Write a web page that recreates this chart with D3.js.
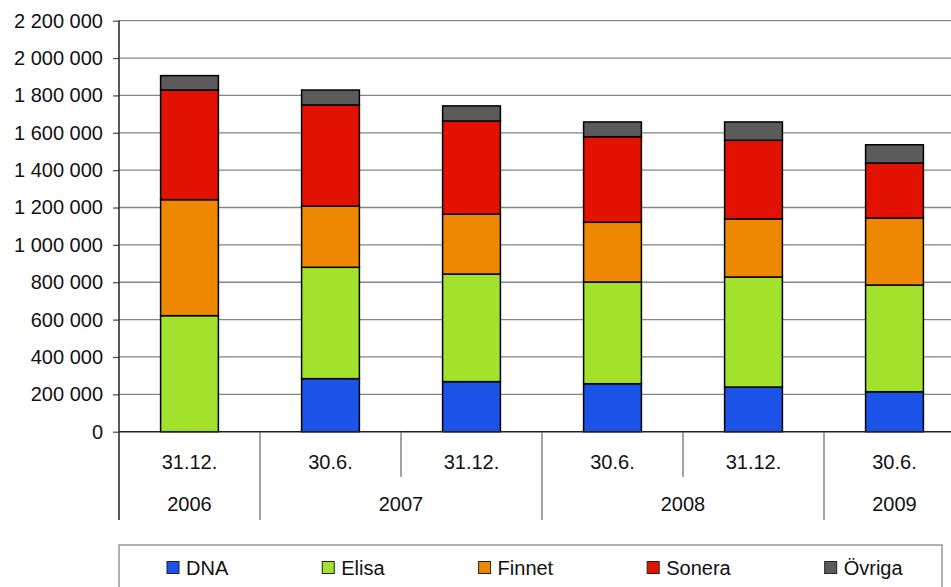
<!DOCTYPE html>
<html><head><meta charset="utf-8">
<script src="https://cdn.jsdelivr.net/npm/d3@7"></script>
<style>body{margin:0;background:#fff}svg{display:block;font-family:"Liberation Sans",Arial,sans-serif}</style>
</head><body><svg id="c" width="951" height="587"></svg>
<script>
const categories = ["31.12.","30.6.","31.12.","30.6.","31.12.","30.6."];
const years = ["2006","2007","2007","2008","2008","2009"];
const seriesNames = ["DNA","Elisa","Finnet","Sonera","Övriga"];
const colors = ["#1b53e8","#a2e22d","#ee8800","#e31200","#5b5b5b"];
const dna    = [0, 284000, 268000, 257000, 239000, 214000];
const elisa  = [621000, 596000, 576000, 544000, 589000, 571000];
const finnet = [621000, 327000, 320000, 320000, 311000, 359000];
const sonera = [587000, 542000, 499000, 458000, 421000, 294000];
const ovriga = [77000, 80000, 81000, 79000, 98000, 98000];
const yTicks = [0,200000,400000,600000,800000,1000000,1200000,1400000,1600000,1800000,2000000,2200000];

const svg = d3.select("#c");
const L = 119, R = 965, T = 20.7, B = 431.7;
const x = d3.scaleBand().domain(d3.range(categories.length)).range([L, R]).padding(0);
const y = d3.scaleLinear().domain([0, 2200000]).range([B, T]);
const fmt = v => d3.format(",")(v).replace(/,/g, " ");

// gridlines
svg.append("g").selectAll("line").data(yTicks.slice(1)).join("line")
  .attr("x1", L).attr("x2", R).attr("y1", d => y(d)).attr("y2", d => y(d))
  .attr("stroke", "#858585").attr("stroke-width", 1.3);

// y axis
const ya = svg.append("g").attr("transform", `translate(${L},0)`)
  .call(d3.axisLeft(y).tickValues(yTicks).tickFormat(fmt).tickSize(6).tickPadding(10));
ya.select(".domain").remove();
ya.selectAll(".tick line").attr("stroke", "#555").attr("stroke-width", 1.3);
ya.selectAll(".tick text").attr("font-size", 20).attr("fill", "#111")
  .attr("font-family", '"Liberation Sans",Arial,sans-serif');

// stacked bars
const rows = categories.map((c, i) => ({i, DNA: dna[i], Elisa: elisa[i], Finnet: finnet[i], Sonera: sonera[i], "Övriga": ovriga[i]}));
const stack = d3.stack().keys(seriesNames)(rows);
const bw = x.bandwidth() * 0.41;
svg.append("g").selectAll("g").data(stack).join("g")
  .attr("fill", (d, k) => colors[k])
  .selectAll("rect").data(d => d.filter(p => p[1] - p[0] > 0)).join("rect")
  .attr("x", d => x(d.data.i) + (x.bandwidth() - bw) / 2)
  .attr("width", bw)
  .attr("y", d => y(d[1]))
  .attr("height", d => y(d[0]) - y(d[1]))
  .attr("stroke", "#000").attr("stroke-width", 1.5);

// axes lines
svg.append("line").attr("x1", L).attr("x2", R).attr("y1", B).attr("y2", B).attr("stroke", "#222").attr("stroke-width", 1.5);
svg.append("line").attr("x1", L).attr("x2", L).attr("y1", T).attr("y2", 520).attr("stroke", "#222").attr("stroke-width", 1.5);

// category dividers
for (let i = 1; i <= categories.length; i++) {
  const long = i === categories.length || years[i] !== years[i - 1];
  const xx = i === categories.length ? R : x(i);
  svg.append("line").attr("x1", xx).attr("x2", xx).attr("y1", B).attr("y2", long ? 520 : 477)
    .attr("stroke", "#666").attr("stroke-width", 1.2);
}
// category labels
svg.append("g").selectAll("text").data(categories).join("text")
  .attr("x", (d, i) => x(i) + x.bandwidth() / 2).attr("y", 462)
  .attr("text-anchor", "middle").attr("dominant-baseline", "central")
  .attr("font-size", 20).attr("fill", "#111").text(d => d);
// year labels
const groups = [];
years.forEach((yr, i) => {
  if (!groups.length || groups[groups.length - 1].yr !== yr) groups.push({yr, s: i, e: i});
  else groups[groups.length - 1].e = i;
});
svg.append("g").selectAll("text").data(groups).join("text")
  .attr("x", g => (x(g.s) + x(g.e) + x.bandwidth()) / 2).attr("y", 504)
  .attr("text-anchor", "middle").attr("dominant-baseline", "central")
  .attr("font-size", 20).attr("fill", "#111").text(g => g.yr);

// legend
svg.append("rect").attr("x", L).attr("y", 545).attr("width", 823).attr("height", 80)
  .attr("fill", "none").attr("stroke", "#888").attr("stroke-width", 1.3);
let lx = 167;
seriesNames.forEach((n, k) => {
  const g = svg.append("g").attr("transform", `translate(${lx},0)`);
  g.append("rect").attr("x", 0).attr("y", 561.5).attr("width", 12).attr("height", 12)
    .attr("fill", colors[k]).attr("stroke", "#222").attr("stroke-width", 1);
  const t = g.append("text").attr("x", 19).attr("y", 567.5).attr("dominant-baseline", "central")
    .attr("font-size", 20).attr("fill", "#111").text(n);
  lx += t.node().getComputedTextLength() + 113;
});
</script></body></html>
